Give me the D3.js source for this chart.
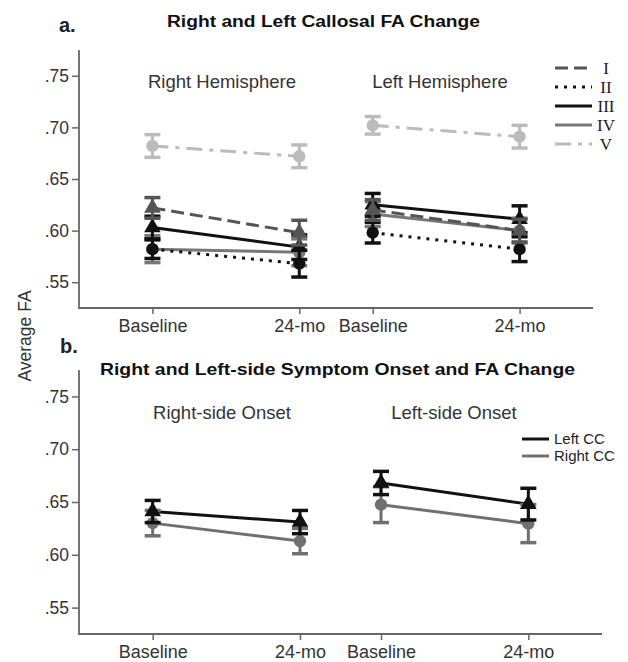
<!DOCTYPE html>
<html>
<head>
<meta charset="utf-8">
<script src="https://cdn.jsdelivr.net/npm/d3@7"></script>
<style>
  body { margin: 0; background: #fff; }
  svg { display: block; font-family: "Liberation Sans", Arial, sans-serif; }
</style>
</head>
<body>
<svg id="chart" width="628" height="662"></svg>
<script>
// ---- data ----
var timepoints = ["Baseline", "24-mo"];
var hemispheres = ["Right Hemisphere", "Left Hemisphere"];
var onsets = ["Right-side Onset", "Left-side Onset"];
var yTicks = [0.55, 0.60, 0.65, 0.70, 0.75];

// panel a: [RH baseline, RH 24-mo, LH baseline, LH 24-mo]
var groupNames = ["I", "II", "III", "IV", "V"];
var faI   = [0.622, 0.598, 0.620, 0.600];
var faII  = [0.582, 0.568, 0.598, 0.582];
var faIII = [0.603, 0.584, 0.625, 0.611];
var faIV  = [0.582, 0.579, 0.616, 0.600];
var faV   = [0.682, 0.672, 0.702, 0.691];
var seI   = [0.010, 0.012, 0.010, 0.011];
var seII  = [0.009, 0.013, 0.010, 0.012];
var seIII = [0.011, 0.012, 0.011, 0.013];
var seIV  = [0.013, 0.013, 0.012, 0.012];
var seV   = [0.011, 0.011, 0.0085, 0.011];

// panel b: [Right-onset baseline, Right-onset 24-mo, Left-onset baseline, Left-onset 24-mo]
var ccNames = ["Left CC", "Right CC"];
var faLeftCC  = [0.641, 0.631, 0.668, 0.648];
var faRightCC = [0.630, 0.613, 0.6475, 0.6295];
var seLeftCC  = [0.0105, 0.011, 0.011, 0.015];
var seRightCC = [0.012, 0.012, 0.017, 0.018];

// ---- styles ----
var groupStyle = {
  "I":   { color: "#555", dash: "13,6", shape: d3.symbolTriangle },
  "II":  { color: "#111", dash: "3,6", shape: d3.symbolCircle },
  "III": { color: "#111", dash: null, shape: d3.symbolTriangle },
  "IV":  { color: "#777", dash: null, shape: d3.symbolCircle },
  "V":   { color: "#bbb", dash: "16,7,4,7", shape: d3.symbolCircle }
};
var ccStyle = {
  "Left CC":  { color: "#111", dash: null, shape: d3.symbolTriangle },
  "Right CC": { color: "#707070", dash: null, shape: d3.symbolCircle }
};

var seriesA = [
  { name: "V", fa: faV, se: seV },
  { name: "IV", fa: faIV, se: seIV },
  { name: "II", fa: faII, se: seII },
  { name: "III", fa: faIII, se: seIII },
  { name: "I", fa: faI, se: seI }
];
var seriesB = [
  { name: "Right CC", fa: faRightCC, se: seRightCC },
  { name: "Left CC", fa: faLeftCC, se: seLeftCC }
];

var svg = d3.select("#chart");
var axisColor = "#666";

function drawPanel(opt) {
  var x = d3.scaleLinear().domain([0, opt.xEnd]).range([79, opt.right]);
  var y = d3.scaleLinear().domain([0.525, 0.775]).range([opt.bottom, opt.top]);
  var g = svg.append("g");

  // axes
  var yAxis = d3.axisLeft(y).tickValues(yTicks).tickSize(7)
      .tickFormat(function (d) { return d3.format(".2f")(d).replace(/^0/, ""); });
  var ya = g.append("g").attr("transform", "translate(79,0)").call(yAxis);
  ya.select(".domain").remove();
  ya.selectAll("line").attr("stroke", axisColor).attr("stroke-width", 1.5);
  ya.selectAll("text").attr("font-size", 17.5).attr("fill", "#333").attr("x", -10).attr("font-family", null);

  var xAxis = d3.axisBottom(x).tickValues(opt.pos).tickSize(6)
      .tickFormat(function (d, i) { return timepoints[i % 2]; });
  var xa = g.append("g").attr("transform", "translate(0," + opt.bottom + ")").call(xAxis);
  xa.select(".domain").remove();
  xa.selectAll("line").attr("stroke", axisColor).attr("stroke-width", 1.5);
  xa.selectAll("text").attr("font-size", 18).attr("fill", "#333").attr("y", 11).attr("font-family", null);

  g.append("path")
    .attr("d", "M79," + opt.top + "V" + opt.bottom + "H" + opt.right)
    .attr("fill", "none").attr("stroke", axisColor).attr("stroke-width", 1.8);

  // subtitles
  opt.subtitles.forEach(function (s, i) {
    g.append("text").attr("x", opt.subX[i]).attr("y", opt.subY)
      .attr("text-anchor", "middle").attr("font-size", 18.5).attr("fill", "#333")
      .text(s);
  });

  // lines
  var line = d3.line().x(function (d) { return x(d.x); }).y(function (d) { return y(d.v); });
  opt.series.forEach(function (s) {
    var st = opt.style[s.name];
    [0, 2].forEach(function (k) {
      var pts = [{ x: opt.pos[k], v: s.fa[k] }, { x: opt.pos[k + 1], v: s.fa[k + 1] }];
      g.append("path").datum(pts).attr("d", line)
        .attr("fill", "none").attr("stroke", st.color).attr("stroke-width", 3)
        .attr("stroke-dasharray", st.dash);
    });
  });

  // error bars and markers
  opt.series.forEach(function (s) {
    var st = opt.style[s.name];
    s.fa.forEach(function (v, k) {
      var cx = x(opt.pos[k]);
      var y1 = y(v + s.se[k]), y2 = y(v - s.se[k]);
      g.append("line").attr("x1", cx).attr("x2", cx).attr("y1", y1).attr("y2", y2)
        .attr("stroke", st.color).attr("stroke-width", 3);
      [y1, y2].forEach(function (yy) {
        g.append("line").attr("x1", cx - 8).attr("x2", cx + 8).attr("y1", yy).attr("y2", yy)
          .attr("stroke", st.color).attr("stroke-width", 3.5);
      });
      g.append("path").attr("d", d3.symbol().type(st.shape).size(120)())
        .attr("transform", "translate(" + cx + "," + y(v) + ")")
        .attr("fill", st.color);
    });
  });
  return g;
}

// panel a
drawPanel({
  top: 50, bottom: 308, right: 593, xEnd: 7, pos: [1, 3, 4, 6],
  series: seriesA, style: groupStyle,
  subtitles: hemispheres, subX: [222, 440], subY: 88
});

// panel b
drawPanel({
  top: 370, bottom: 634, right: 602, xEnd: 7.1, pos: [1, 3, 4.1, 6.1],
  series: seriesB, style: ccStyle,
  subtitles: onsets, subX: [222, 454], subY: 419
});

// panel labels and titles
svg.append("text").attr("x", 59).attr("y", 32).attr("font-size", 20).attr("font-weight", "bold")
  .attr("fill", "#222").text("a.");
svg.append("text").attr("x", 60).attr("y", 353).attr("font-size", 20).attr("font-weight", "bold")
  .attr("fill", "#222").text("b.");
svg.append("text").attr("x", 167).attr("y", 27).attr("font-size", 16).attr("font-weight", "bold")
  .attr("fill", "#111").attr("textLength", 313).attr("lengthAdjust", "spacingAndGlyphs")
  .text("Right and Left Callosal FA Change");
svg.append("text").attr("x", 100).attr("y", 375).attr("font-size", 16.5).attr("font-weight", "bold")
  .attr("fill", "#111").attr("textLength", 475).attr("lengthAdjust", "spacingAndGlyphs")
  .text("Right and Left-side Symptom Onset and FA Change");

// y axis title
svg.append("text").attr("transform", "translate(31,336) rotate(-90)")
  .attr("text-anchor", "middle").attr("font-size", 17.5).attr("fill", "#333")
  .text("Average FA");

// legend a
var legA = svg.append("g");
groupNames.forEach(function (n, i) {
  var st = groupStyle[n];
  var yy = 68 + i * 19;
  legA.append("line").attr("x1", 555).attr("x2", 592).attr("y1", yy).attr("y2", yy)
    .attr("stroke", st.color).attr("stroke-width", 3).attr("stroke-dasharray", st.dash);
  legA.append("text").attr("x", 606).attr("y", yy + 6).attr("text-anchor", "middle")
    .attr("font-family", "'Liberation Serif', 'Times New Roman', serif")
    .attr("font-size", 17).attr("fill", "#222").text(n);
});

// legend b
var legB = svg.append("g");
ccNames.forEach(function (n, i) {
  var st = ccStyle[n];
  var yy = 439 + i * 17;
  legB.append("line").attr("x1", 522).attr("x2", 549).attr("y1", yy).attr("y2", yy)
    .attr("stroke", st.color).attr("stroke-width", 3);
  legB.append("text").attr("x", 554).attr("y", yy + 5).attr("font-size", 15)
    .attr("fill", "#222").text(n);
});
</script>
</body>
</html>
